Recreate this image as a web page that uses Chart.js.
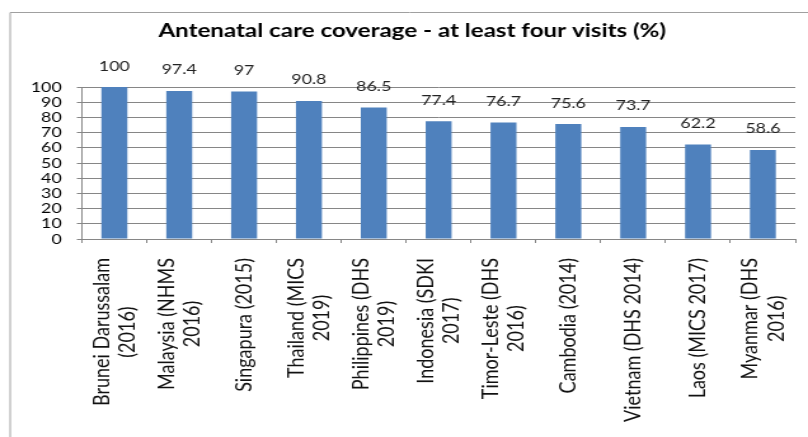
<!DOCTYPE html>
<html>
<head>
<meta charset="utf-8">
<title>Antenatal care coverage</title>
<script src="https://cdn.jsdelivr.net/npm/chart.js@4.4.1/dist/chart.umd.min.js"></script>
<style>
  html, body { margin: 0; padding: 0; background: #fff; }
</style>
</head>
<body>
<!-- drawn on a narrower canvas and widened by CSS, like the old Excel export -->
<canvas id="myChart" width="636" height="437" style="width:808px;height:437px;"></canvas>
<script>
const ctx = document.getElementById('myChart').getContext('2d');

const chartTitle = 'Antenatal care coverage - at least four visits (%)';

// Country (survey, year) labels, split into lines
const countries = [
    ['Brunei Darussalam', '(2016)'],
    ['Malaysia (NHMS', '2016)'],
    ['Singapura (2015)'],
    ['Thailand (MICS', '2019)'],
    ['Philippines (DHS', '2019)'],
    ['Indonesia (SDKI', '2017)'],
    ['Timor-Leste (DHS', '2016)'],
    ['Cambodia (2014)'],
    ['Vietnam (DHS 2014)'],
    ['Laos (MICS 2017)'],
    ['Myanmar (DHS', '2016)']
];

// Share of women with at least four antenatal visits
const coverage = [100, 97.4, 97, 90.8, 86.5, 77.4, 76.7, 75.6, 73.7, 62.2, 58.6];

// Y axis range
const yMin = 0;
const yMax = 100;
const yStep = 10;

const gridGray = '#868686';

// Frame, title, value labels and the rotated country labels
const chartDecor = {
    id: 'chartDecor',
    beforeDraw(chart) {
        const c = chart.ctx;
        c.save();
        c.strokeStyle = '#a0a0a0';
        c.lineWidth = 1;
        c.beginPath();
        c.moveTo(8, chart.height + 2);
        c.lineTo(8, 12.5);
        c.lineTo(chart.width + 2, 12.5);
        c.stroke();
        c.restore();
    },
    afterDatasetsDraw(chart) {
        const c = chart.ctx;
        const meta = chart.getDatasetMeta(0);
        const xScale = chart.scales.x;

        c.save();

        // title
        c.fillStyle = '#000';
        c.font = 'bold 19px Lato';
        c.textAlign = 'center';
        c.textBaseline = 'alphabetic';
        c.fillText(chartTitle, 324.5, 37);

        // values above the bars
        c.font = '14px Lato';
        c.fillStyle = '#222';
        c.textBaseline = 'middle';
        meta.data.forEach((bar, i) => {
            c.fillText(String(coverage[i]), bar.x, bar.y - 21);
        });

        // category labels, read bottom to top, lines centred on each other
        c.font = '18px Lato';
        c.fillStyle = '#111';
        const lineH = 20.5;
        const top = xScale.top + 19;
        countries.forEach((lines, i) => {
            const x = xScale.getPixelForValue(i);
            const longest = Math.max(...lines.map(l => c.measureText(l).width));
            c.save();
            c.translate(x, top);
            c.rotate(-Math.PI / 2);
            c.textAlign = 'center';
            c.textBaseline = 'middle';
            lines.forEach((line, j) => {
                c.fillText(line, -longest / 2, (j - (lines.length - 1) / 2) * lineH);
            });
            c.restore();
        });

        c.restore();
    }
};

const data = {
    labels: countries,
    datasets: [{
        data: coverage,
        backgroundColor: '#4f81bd',
        borderWidth: 0,
        categoryPercentage: 1,
        barPercentage: 0.4
    }]
};

const options = {
    responsive: false,
    devicePixelRatio: 1,
    animation: false,
    layout: {
        padding: { left: 0, right: 10, top: 87, bottom: 0 }
    },
    plugins: {
        legend: { display: false },
        title: { display: false },
        tooltip: { enabled: false }
    },
    scales: {
        x: {
            afterFit(scale) { scale.height = 198; },
            border: { color: gridGray },
            grid: {
                drawOnChartArea: false,
                drawTicks: true,
                tickLength: 4,
                color: gridGray,
                offset: true
            },
            ticks: { display: false }
        },
        y: {
            min: yMin,
            max: yMax,
            afterFit(scale) { scale.width = 64.5; },
            border: { color: gridGray },
            grid: {
                color: gridGray,
                drawTicks: true,
                tickLength: 4
            },
            ticks: {
                stepSize: yStep,
                autoSkip: false,
                padding: 12,
                color: '#000',
                font: { family: 'Lato', size: 14, lineHeight: 1 }
            }
        }
    }
};

const myChart = new Chart(ctx, {
    type: 'bar',
    data: data,
    options: options,
    plugins: [chartDecor]
});
</script>
</body>
</html>
